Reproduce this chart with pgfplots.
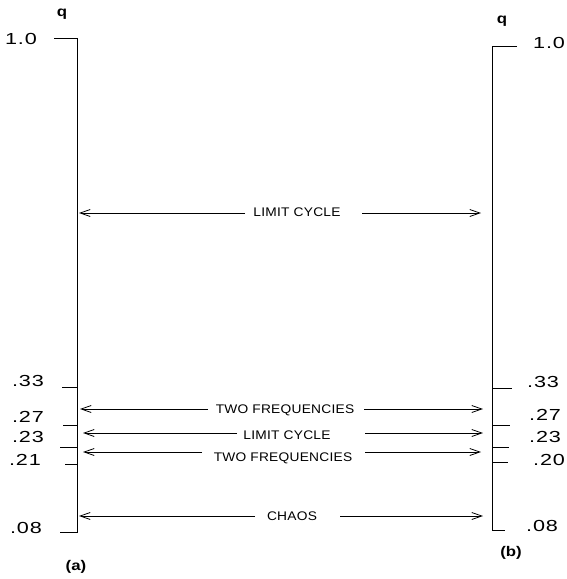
\documentclass[border=0pt]{standalone}
\usepackage{pgfplots}
\pgfplotsset{compat=1.18}
\usepackage{fontspec}
\setmainfont{Liberation Sans}
\newfontfamily\lab[FakeStretch=1.1, LetterSpace=2]{Liberation Sans}
\newfontfamily\tk[FakeStretch=1.35, LetterSpace=5]{Liberation Sans}
\newfontfamily\pn[FakeStretch=1.2]{Liberation Sans}
\usetikzlibrary{arrows.meta}

\tikzset{
  tl/.style={font=\tk\fontsize{16}{16}\selectfont, inner sep=0pt},
  al/.style={font=\lab\fontsize{12.5}{13}\selectfont, inner sep=0pt},
  pl/.style={font=\pn\bfseries\fontsize{14}{14}\selectfont, inner sep=0pt},
}

\begin{document}
\begin{tikzpicture}
\begin{axis}[
  width=567pt, height=579pt, scale only axis,
  xmin=0, xmax=567, ymin=0, ymax=579, y dir=reverse,
  hide axis, clip=false,
  ln/.style={black, solid, no marks, line width=0.9pt},
  arr/.style={ln, line width=0.8pt, -{Straight Barb[length=10pt,width=7pt,line width=0.8pt]}},
]
% keep the full frame in the bounding box
\addplot[draw=none, no marks, forget plot] coordinates {(0,0) (567,579)};

% scale (a): q from 1.0 down to .08
\addplot[ln] coordinates {(54,38) (77,38) (77,532) (60,532)};
\addplot[ln] coordinates {(62,387) (77,387)};
\addplot[ln] coordinates {(63,425) (77,425)};
\addplot[ln] coordinates {(60,447) (77,447)};
\addplot[ln] coordinates {(65,464) (77,464)};
% scale (b)
\addplot[ln] coordinates {(517,46) (492,46) (492,530) (505,530)};
\addplot[ln] coordinates {(492,388) (512,388)};
\addplot[ln] coordinates {(492,425) (510,425)};
\addplot[ln] coordinates {(492,447) (509,447)};
\addplot[ln] coordinates {(492,462) (508,462)};

% regime arrows (each split around its label)
\addplot[arr] coordinates {(245,213) (79,213)};
\addplot[arr] coordinates {(362,213) (481,213)};
\addplot[arr] coordinates {(208,409) (80,409)};
\addplot[arr] coordinates {(364,409) (483,409)};
\addplot[arr] coordinates {(237,433) (83,433)};
\addplot[arr] coordinates {(365,433) (483,433)};
\addplot[arr] coordinates {(202,452) (83,452)};
\addplot[arr] coordinates {(365,452) (481,452)};
\addplot[arr] coordinates {(255,516) (79,516)};
\addplot[arr] coordinates {(340,516) (483,516)};

% regime names
\node[al] at (axis cs:297,212) {LIMIT CYCLE};
\node[al] at (axis cs:285,410) {TWO FREQUENCIES};
\node[al] at (axis cs:287,435) {LIMIT CYCLE};
\node[al] at (axis cs:283,458) {TWO FREQUENCIES};
\node[al] at (axis cs:292,516) {CHAOS};

% tick values, scale (a)
\node[tl, anchor=east] at (axis cs:37,39) {1.0};
\node[tl, anchor=east] at (axis cs:44,381) {.33};
\node[tl, anchor=east] at (axis cs:44,417) {.27};
\node[tl, anchor=east] at (axis cs:44,437) {.23};
\node[tl, anchor=east] at (axis cs:41,460) {.21};
\node[tl, anchor=east] at (axis cs:42,528) {.08};
% tick values, scale (b)
\node[tl, anchor=west] at (axis cs:533,43) {1.0};
\node[tl, anchor=west] at (axis cs:527,382) {.33};
\node[tl, anchor=west] at (axis cs:529,415) {.27};
\node[tl, anchor=west] at (axis cs:529,437) {.23};
\node[tl, anchor=west] at (axis cs:533,460) {.20};
\node[tl, anchor=west] at (axis cs:526,526) {.08};

% axis names and panel letters
\node[pl] at (axis cs:62,14) {q};
\node[pl] at (axis cs:502,21) {q};
\node[pl] at (axis cs:76,567) {(a)};
\node[pl] at (axis cs:511,553) {(b)};
\end{axis}
\end{tikzpicture}
\end{document}
